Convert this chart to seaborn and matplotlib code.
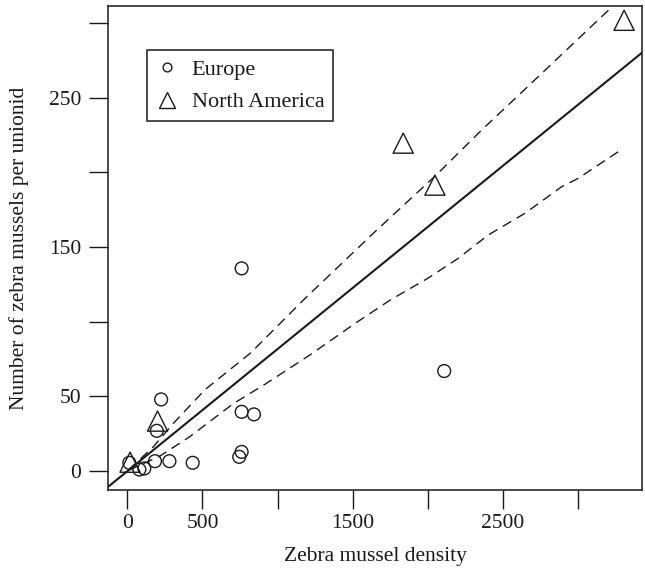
import matplotlib
matplotlib.use('Agg')
import matplotlib.pyplot as plt
import seaborn as sns
from matplotlib.lines import Line2D

# ---- data ----
europe_x = [13, 80, 113, 184, 196, 225, 280, 435, 745, 761, 761, 843, 761, 2110]
europe_y = [5.6, 1.1, 1.8, 6.7, 27, 48, 6.7, 5.6, 9.6, 12.9, 39.7, 38, 135.7, 67]
america_x = [18, 201, 1837, 2048, 3308]
america_y = [6, 33.5, 219.5, 191.4, 301.7]

fit_intercept = 0.0
fit_slope = 0.0817

upper_x = [10, 173, 309, 518, 822, 1172, 1649, 2050, 2359, 2800, 3238, 3300]
upper_y = [1.0, 16.3, 32.3, 54.6, 79.2, 114.5, 160.2, 197.5, 228.2, 270, 311.7, 318]
lower_x = [10, 215, 413, 706, 916, 1219, 1522, 1750, 2000, 2203, 2403, 2647, 2892, 3002, 3268]
lower_y = [0.7, 10, 22.9, 45.2, 58.1, 78, 99.2, 114.5, 129, 142.4, 158, 172.5, 190.3, 195.9, 213.7]

x_ticks = [0, 500, 1000, 1500, 2000, 2500, 3000]
x_tick_labels = ['0', '500', '', '1500', '', '2500', '']
y_ticks = [0, 50, 100, 150, 200, 250, 300]
y_tick_labels = ['0', '50', '', '150', '', '250', '']

legend_labels = ['Europe', 'North America']
x_label = 'Zebra mussel density'
y_label = 'Number of zebra mussels per unionid'

# ---- style ----
sns.set_style('white')
ink = '#1a1a1a'
plt.rcParams['font.family'] = ['Liberation Serif', 'DejaVu Serif']
fs = 15.5

fig = plt.figure(figsize=(6.45, 5.78), dpi=100)
ax = fig.add_axes([0.168, 0.152, 0.828, 0.838])

sns.scatterplot(x=europe_x, y=europe_y, marker='o', s=85, color=ink,
                facecolor='none', edgecolor=ink, linewidth=1.0, ax=ax, zorder=3)
sns.scatterplot(x=america_x, y=america_y, marker='^', s=210, color=ink,
                facecolor='none', edgecolor=ink, linewidth=1.0, ax=ax, zorder=3)

ax.axline((0, fit_intercept), slope=fit_slope, color=ink, lw=1.5, zorder=2)
sns.lineplot(x=upper_x, y=upper_y, color=ink, lw=1.0, dashes=False,
             linestyle=(0, (7, 4.5)), sort=False, estimator=None, ax=ax, zorder=2)
sns.lineplot(x=lower_x, y=lower_y, color=ink, lw=1.0, dashes=False,
             linestyle=(0, (7, 4.5)), sort=False, estimator=None, ax=ax, zorder=2)

ax.set_xlim(-126.5, 3430)
ax.set_ylim(-12.7, 311.4)
ax.set_xticks(x_ticks)
ax.set_xticklabels(x_tick_labels)
ax.set_yticks(y_ticks)
ax.set_yticklabels(y_tick_labels)
ax.tick_params(axis='both', direction='out', length=13.5, width=1.0, color=ink,
               labelcolor=ink, labelsize=fs, bottom=True, left=True)
ax.tick_params(axis='x', pad=4)
ax.tick_params(axis='y', pad=6)
for sp in ax.spines.values():
    sp.set_visible(True)
    sp.set_color(ink)
    sp.set_linewidth(1.1)
ax.grid(False)

ax.set_xlabel(x_label, fontsize=fs, color=ink, labelpad=10)
ax.set_ylabel(y_label, fontsize=fs, color=ink, labelpad=14)

handles = [
    Line2D([], [], marker='o', ls='none', markersize=6.3, markerfacecolor='none',
           markeredgecolor=ink, markeredgewidth=1.0),
    Line2D([], [], marker='^', ls='none', markersize=11, markerfacecolor='none',
           markeredgecolor=ink, markeredgewidth=1.0),
]
leg = ax.legend(handles, legend_labels, loc='upper left',
                bbox_to_anchor=(0.0725, 0.9085), borderaxespad=0,
                fontsize=16, frameon=True, fancybox=False, shadow=False,
                handlelength=1.0, handletextpad=0.6, borderpad=0.4,
                labelspacing=0.55)
leg.get_frame().set_edgecolor(ink)
leg.get_frame().set_linewidth(1.1)
leg.get_frame().set_facecolor('white')
leg.get_frame().set_alpha(1)
for t in leg.get_texts():
    t.set_color(ink)

fig.savefig('out.png', dpi=100, facecolor='white')
